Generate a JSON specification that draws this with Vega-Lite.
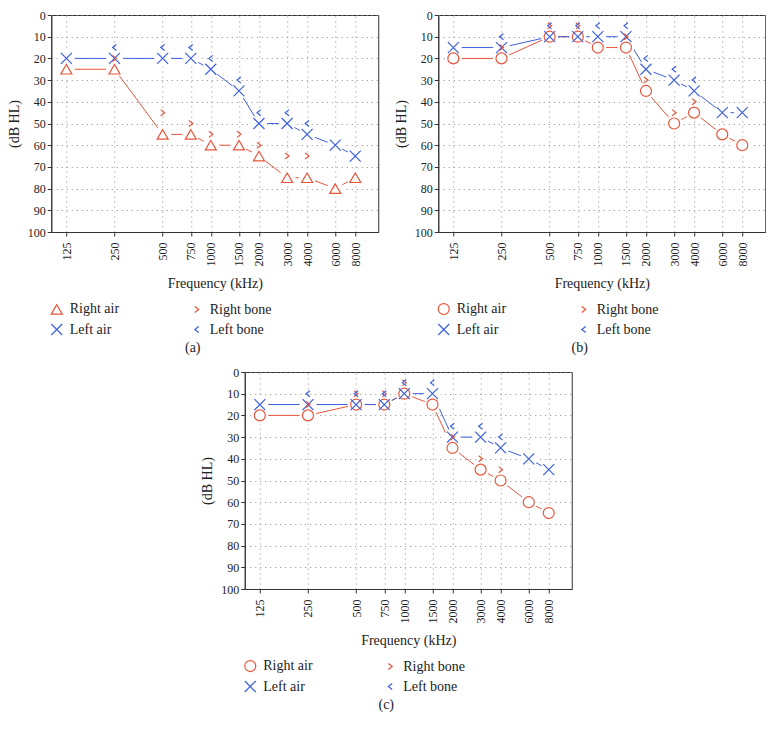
{
  "$schema": "https://vega.github.io/schema/vega-lite/v6.json",
  "padding": {"left": 6, "top": 8, "right": 0, "bottom": 0},
  "background": "white",
  "datasets": {
    "aud": [
      {"panel": "a", "series": "Right air", "kind": "air", "freq": 125, "db": 25},
      {"panel": "a", "series": "Right air", "kind": "air", "freq": 250, "db": 25},
      {"panel": "a", "series": "Right air", "kind": "air", "freq": 500, "db": 55},
      {"panel": "a", "series": "Right air", "kind": "air", "freq": 750, "db": 55},
      {"panel": "a", "series": "Right air", "kind": "air", "freq": 1000, "db": 60},
      {"panel": "a", "series": "Right air", "kind": "air", "freq": 1500, "db": 60},
      {"panel": "a", "series": "Right air", "kind": "air", "freq": 2000, "db": 65},
      {"panel": "a", "series": "Right air", "kind": "air", "freq": 3000, "db": 75},
      {"panel": "a", "series": "Right air", "kind": "air", "freq": 4000, "db": 75},
      {"panel": "a", "series": "Right air", "kind": "air", "freq": 6000, "db": 80},
      {"panel": "a", "series": "Right air", "kind": "air", "freq": 8000, "db": 75},
      {"panel": "a", "series": "Left air", "kind": "air", "freq": 125, "db": 20},
      {"panel": "a", "series": "Left air", "kind": "air", "freq": 250, "db": 20},
      {"panel": "a", "series": "Left air", "kind": "air", "freq": 500, "db": 20},
      {"panel": "a", "series": "Left air", "kind": "air", "freq": 750, "db": 20},
      {"panel": "a", "series": "Left air", "kind": "air", "freq": 1000, "db": 25},
      {"panel": "a", "series": "Left air", "kind": "air", "freq": 1500, "db": 35},
      {"panel": "a", "series": "Left air", "kind": "air", "freq": 2000, "db": 50},
      {"panel": "a", "series": "Left air", "kind": "air", "freq": 3000, "db": 50},
      {"panel": "a", "series": "Left air", "kind": "air", "freq": 4000, "db": 55},
      {"panel": "a", "series": "Left air", "kind": "air", "freq": 6000, "db": 60},
      {"panel": "a", "series": "Left air", "kind": "air", "freq": 8000, "db": 65},
      {"panel": "a", "series": "Right bone", "kind": "bone", "freq": 250, "db": 20},
      {"panel": "a", "series": "Right bone", "kind": "bone", "freq": 500, "db": 45},
      {"panel": "a", "series": "Right bone", "kind": "bone", "freq": 750, "db": 50},
      {"panel": "a", "series": "Right bone", "kind": "bone", "freq": 1000, "db": 55},
      {"panel": "a", "series": "Right bone", "kind": "bone", "freq": 1500, "db": 55},
      {"panel": "a", "series": "Right bone", "kind": "bone", "freq": 2000, "db": 60},
      {"panel": "a", "series": "Right bone", "kind": "bone", "freq": 3000, "db": 65},
      {"panel": "a", "series": "Right bone", "kind": "bone", "freq": 4000, "db": 65},
      {"panel": "a", "series": "Left bone", "kind": "bone", "freq": 250, "db": 15},
      {"panel": "a", "series": "Left bone", "kind": "bone", "freq": 500, "db": 15},
      {"panel": "a", "series": "Left bone", "kind": "bone", "freq": 750, "db": 15},
      {"panel": "a", "series": "Left bone", "kind": "bone", "freq": 1000, "db": 20},
      {"panel": "a", "series": "Left bone", "kind": "bone", "freq": 1500, "db": 30},
      {"panel": "a", "series": "Left bone", "kind": "bone", "freq": 2000, "db": 45},
      {"panel": "a", "series": "Left bone", "kind": "bone", "freq": 3000, "db": 45},
      {"panel": "a", "series": "Left bone", "kind": "bone", "freq": 4000, "db": 50},

      {"panel": "b", "series": "Right air", "kind": "air", "freq": 125, "db": 20},
      {"panel": "b", "series": "Right air", "kind": "air", "freq": 250, "db": 20},
      {"panel": "b", "series": "Right air", "kind": "air", "freq": 500, "db": 10},
      {"panel": "b", "series": "Right air", "kind": "air", "freq": 750, "db": 10},
      {"panel": "b", "series": "Right air", "kind": "air", "freq": 1000, "db": 15},
      {"panel": "b", "series": "Right air", "kind": "air", "freq": 1500, "db": 15},
      {"panel": "b", "series": "Right air", "kind": "air", "freq": 2000, "db": 35},
      {"panel": "b", "series": "Right air", "kind": "air", "freq": 3000, "db": 50},
      {"panel": "b", "series": "Right air", "kind": "air", "freq": 4000, "db": 45},
      {"panel": "b", "series": "Right air", "kind": "air", "freq": 6000, "db": 55},
      {"panel": "b", "series": "Right air", "kind": "air", "freq": 8000, "db": 60},
      {"panel": "b", "series": "Left air", "kind": "air", "freq": 125, "db": 15},
      {"panel": "b", "series": "Left air", "kind": "air", "freq": 250, "db": 15},
      {"panel": "b", "series": "Left air", "kind": "air", "freq": 500, "db": 10},
      {"panel": "b", "series": "Left air", "kind": "air", "freq": 750, "db": 10},
      {"panel": "b", "series": "Left air", "kind": "air", "freq": 1000, "db": 10},
      {"panel": "b", "series": "Left air", "kind": "air", "freq": 1500, "db": 10},
      {"panel": "b", "series": "Left air", "kind": "air", "freq": 2000, "db": 25},
      {"panel": "b", "series": "Left air", "kind": "air", "freq": 3000, "db": 30},
      {"panel": "b", "series": "Left air", "kind": "air", "freq": 4000, "db": 35},
      {"panel": "b", "series": "Left air", "kind": "air", "freq": 6000, "db": 45},
      {"panel": "b", "series": "Left air", "kind": "air", "freq": 8000, "db": 45},
      {"panel": "b", "series": "Right bone", "kind": "bone", "freq": 250, "db": 15},
      {"panel": "b", "series": "Right bone", "kind": "bone", "freq": 500, "db": 5},
      {"panel": "b", "series": "Right bone", "kind": "bone", "freq": 750, "db": 5},
      {"panel": "b", "series": "Right bone", "kind": "bone", "freq": 1500, "db": 10},
      {"panel": "b", "series": "Right bone", "kind": "bone", "freq": 2000, "db": 30},
      {"panel": "b", "series": "Right bone", "kind": "bone", "freq": 3000, "db": 45},
      {"panel": "b", "series": "Right bone", "kind": "bone", "freq": 4000, "db": 40},
      {"panel": "b", "series": "Left bone", "kind": "bone", "freq": 250, "db": 10},
      {"panel": "b", "series": "Left bone", "kind": "bone", "freq": 500, "db": 5},
      {"panel": "b", "series": "Left bone", "kind": "bone", "freq": 750, "db": 5},
      {"panel": "b", "series": "Left bone", "kind": "bone", "freq": 1000, "db": 5},
      {"panel": "b", "series": "Left bone", "kind": "bone", "freq": 1500, "db": 5},
      {"panel": "b", "series": "Left bone", "kind": "bone", "freq": 2000, "db": 20},
      {"panel": "b", "series": "Left bone", "kind": "bone", "freq": 3000, "db": 25},
      {"panel": "b", "series": "Left bone", "kind": "bone", "freq": 4000, "db": 30},

      {"panel": "c", "series": "Right air", "kind": "air", "freq": 125, "db": 20},
      {"panel": "c", "series": "Right air", "kind": "air", "freq": 250, "db": 20},
      {"panel": "c", "series": "Right air", "kind": "air", "freq": 500, "db": 15},
      {"panel": "c", "series": "Right air", "kind": "air", "freq": 750, "db": 15},
      {"panel": "c", "series": "Right air", "kind": "air", "freq": 1000, "db": 10},
      {"panel": "c", "series": "Right air", "kind": "air", "freq": 1500, "db": 15},
      {"panel": "c", "series": "Right air", "kind": "air", "freq": 2000, "db": 35},
      {"panel": "c", "series": "Right air", "kind": "air", "freq": 3000, "db": 45},
      {"panel": "c", "series": "Right air", "kind": "air", "freq": 4000, "db": 50},
      {"panel": "c", "series": "Right air", "kind": "air", "freq": 6000, "db": 60},
      {"panel": "c", "series": "Right air", "kind": "air", "freq": 8000, "db": 65},
      {"panel": "c", "series": "Left air", "kind": "air", "freq": 125, "db": 15},
      {"panel": "c", "series": "Left air", "kind": "air", "freq": 250, "db": 15},
      {"panel": "c", "series": "Left air", "kind": "air", "freq": 500, "db": 15},
      {"panel": "c", "series": "Left air", "kind": "air", "freq": 750, "db": 15},
      {"panel": "c", "series": "Left air", "kind": "air", "freq": 1000, "db": 10},
      {"panel": "c", "series": "Left air", "kind": "air", "freq": 1500, "db": 10},
      {"panel": "c", "series": "Left air", "kind": "air", "freq": 2000, "db": 30},
      {"panel": "c", "series": "Left air", "kind": "air", "freq": 3000, "db": 30},
      {"panel": "c", "series": "Left air", "kind": "air", "freq": 4000, "db": 35},
      {"panel": "c", "series": "Left air", "kind": "air", "freq": 6000, "db": 40},
      {"panel": "c", "series": "Left air", "kind": "air", "freq": 8000, "db": 45},
      {"panel": "c", "series": "Right bone", "kind": "bone", "freq": 250, "db": 15},
      {"panel": "c", "series": "Right bone", "kind": "bone", "freq": 500, "db": 10},
      {"panel": "c", "series": "Right bone", "kind": "bone", "freq": 750, "db": 10},
      {"panel": "c", "series": "Right bone", "kind": "bone", "freq": 1000, "db": 5},
      {"panel": "c", "series": "Right bone", "kind": "bone", "freq": 2000, "db": 30},
      {"panel": "c", "series": "Right bone", "kind": "bone", "freq": 3000, "db": 40},
      {"panel": "c", "series": "Right bone", "kind": "bone", "freq": 4000, "db": 45},
      {"panel": "c", "series": "Left bone", "kind": "bone", "freq": 250, "db": 10},
      {"panel": "c", "series": "Left bone", "kind": "bone", "freq": 500, "db": 10},
      {"panel": "c", "series": "Left bone", "kind": "bone", "freq": 750, "db": 10},
      {"panel": "c", "series": "Left bone", "kind": "bone", "freq": 1000, "db": 5},
      {"panel": "c", "series": "Left bone", "kind": "bone", "freq": 1500, "db": 5},
      {"panel": "c", "series": "Left bone", "kind": "bone", "freq": 2000, "db": 25},
      {"panel": "c", "series": "Left bone", "kind": "bone", "freq": 3000, "db": 25},
      {"panel": "c", "series": "Left bone", "kind": "bone", "freq": 4000, "db": 30}
    ]
  },
  "vconcat": [
    {
      "hconcat": [
        {
          "width": 327, "height": 217,
          "data": {"name": "aud"},
          "transform": [{"filter": "datum.panel === 'a'"}],
          "title": {"text": "(a)"},
          "encoding": {
            "x": {"field": "freq", "type": "quantitative", "scale": {"type": "log", "base": 2, "domain": [100.6, 11140], "nice": false},
                  "axis": {"values": [125, 250, 500, 750, 1000, 1500, 2000, 3000, 4000, 6000, 8000], "format": "d", "labelAngle": -90, "title": "Frequency (kHz)"}},
            "y": {"field": "db", "type": "quantitative", "scale": {"domain": [0, 100], "reverse": true, "nice": false, "zero": false},
                  "axis": {"values": [0, 10, 20, 30, 40, 50, 60, 70, 80, 90, 100], "title": "(dB HL)"}}
          },
          "layer": [
            {"transform": [{"filter": "datum.series === 'Right air'"}], "mark": {"type": "line", "color": "#e8553b", "strokeWidth": 1}},
            {"transform": [{"filter": "datum.series === 'Left air'"}], "mark": {"type": "line", "color": "#3b5fde", "strokeWidth": 1}},
            {"transform": [{"filter": "datum.kind === 'air'"}], "mark": {"type": "point", "shape": "circle", "filled": true, "color": "white", "strokeWidth": 0, "size": 280, "opacity": 1}},
            {"mark": {"type": "point", "filled": false, "strokeWidth": 1.2, "size": 121, "opacity": 1},
             "encoding": {
               "shape": {"field": "series", "type": "nominal", "scale": {"domain": ["Right air", "Right bone", "Left air", "Left bone"], "range": ["triangle-up", "M-0.35,-0.55L0.35,0L-0.35,0.55", "M-1,-1L1,1M-1,1L1,-1", "M0.35,-0.55L-0.35,0L0.35,0.55"]}, "legend": null},
               "color": {"field": "series", "type": "nominal", "scale": {"domain": ["Right air", "Right bone", "Left air", "Left bone"], "range": ["#e8553b", "#e8553b", "#3b5fde", "#3b5fde"]},
                         "legend": {"orient": "none", "legendX": -1.5, "legendY": 287, "columns": 2, "direction": "horizontal", "title": null}}
             }}
          ]
        },
        {
          "width": 327, "height": 217,
          "data": {"name": "aud"},
          "transform": [{"filter": "datum.panel === 'b'"}],
          "title": {"text": "(b)"},
          "encoding": {
            "x": {"field": "freq", "type": "quantitative", "scale": {"type": "log", "base": 2, "domain": [100.6, 11140], "nice": false},
                  "axis": {"values": [125, 250, 500, 750, 1000, 1500, 2000, 3000, 4000, 6000, 8000], "format": "d", "labelAngle": -90, "title": "Frequency (kHz)"}},
            "y": {"field": "db", "type": "quantitative", "scale": {"domain": [0, 100], "reverse": true, "nice": false, "zero": false},
                  "axis": {"values": [0, 10, 20, 30, 40, 50, 60, 70, 80, 90, 100], "title": "(dB HL)"}}
          },
          "layer": [
            {"transform": [{"filter": "datum.series === 'Right air'"}], "mark": {"type": "line", "color": "#e8553b", "strokeWidth": 1}},
            {"transform": [{"filter": "datum.series === 'Left air'"}], "mark": {"type": "line", "color": "#3b5fde", "strokeWidth": 1}},
            {"transform": [{"filter": "datum.kind === 'air'"}], "mark": {"type": "point", "shape": "circle", "filled": true, "color": "white", "strokeWidth": 0, "size": 280, "opacity": 1}},
            {"mark": {"type": "point", "filled": false, "strokeWidth": 1.2, "size": 121, "opacity": 1},
             "encoding": {
               "shape": {"field": "series", "type": "nominal", "scale": {"domain": ["Right air", "Right bone", "Left air", "Left bone"], "range": ["circle", "M-0.35,-0.55L0.35,0L-0.35,0.55", "M-1,-1L1,1M-1,1L1,-1", "M0.35,-0.55L-0.35,0L0.35,0.55"]}, "legend": null},
               "color": {"field": "series", "type": "nominal", "scale": {"domain": ["Right air", "Right bone", "Left air", "Left bone"], "range": ["#e8553b", "#e8553b", "#3b5fde", "#3b5fde"]},
                         "legend": {"orient": "none", "legendX": -1.5, "legendY": 287, "columns": 2, "direction": "horizontal", "title": null}}
             }}
          ]
        }
      ],
      "spacing": 14,
      "resolve": {"scale": {"color": "independent", "shape": "independent"}, "legend": {"color": "independent", "shape": "independent"}}
    },
    {
      "width": 327, "height": 217,
      "data": {"name": "aud"},
      "transform": [{"filter": "datum.panel === 'c'"}],
      "title": {"text": "(c)"},
      "encoding": {
        "x": {"field": "freq", "type": "quantitative", "scale": {"type": "log", "base": 2, "domain": [100.6, 11140], "nice": false},
              "axis": {"values": [125, 250, 500, 750, 1000, 1500, 2000, 3000, 4000, 6000, 8000], "format": "d", "labelAngle": -90, "title": "Frequency (kHz)"}},
        "y": {"field": "db", "type": "quantitative", "scale": {"domain": [0, 100], "reverse": true, "nice": false, "zero": false},
              "axis": {"values": [0, 10, 20, 30, 40, 50, 60, 70, 80, 90, 100], "title": "(dB HL)"}}
      },
      "layer": [
        {"transform": [{"filter": "datum.series === 'Right air'"}], "mark": {"type": "line", "color": "#e8553b", "strokeWidth": 1}},
        {"transform": [{"filter": "datum.series === 'Left air'"}], "mark": {"type": "line", "color": "#3b5fde", "strokeWidth": 1}},
        {"transform": [{"filter": "datum.kind === 'air'"}], "mark": {"type": "point", "shape": "circle", "filled": true, "color": "white", "strokeWidth": 0, "size": 280, "opacity": 1}},
        {"mark": {"type": "point", "filled": false, "strokeWidth": 1.2, "size": 121, "opacity": 1},
         "encoding": {
           "shape": {"field": "series", "type": "nominal", "scale": {"domain": ["Right air", "Right bone", "Left air", "Left bone"], "range": ["circle", "M-0.35,-0.55L0.35,0L-0.35,0.55", "M-1,-1L1,1M-1,1L1,-1", "M0.35,-0.55L-0.35,0L0.35,0.55"]}, "legend": null},
           "color": {"field": "series", "type": "nominal", "scale": {"domain": ["Right air", "Right bone", "Left air", "Left bone"], "range": ["#e8553b", "#e8553b", "#3b5fde", "#3b5fde"]},
                     "legend": {"orient": "none", "legendX": -1.5, "legendY": 287, "columns": 2, "direction": "horizontal", "title": null}}
         }}
      ]
    }
  ],
  "spacing": 9,
  "center": true,
  "resolve": {"scale": {"color": "independent", "shape": "independent"}, "legend": {"color": "independent", "shape": "independent"}},
  "config": {
    "font": "Liberation Serif",
    "view": {"stroke": "#333", "strokeWidth": 1},
    "axis": {
      "labelFont": "Liberation Serif", "labelFontSize": 12, "labelColor": "#222",
      "titleFont": "Liberation Serif", "titleFontSize": 14, "titleFontWeight": "normal", "titleColor": "#222",
      "domainColor": "#333", "tickColor": "#333", "tickSize": 4, "labelPadding": 2,
      "grid": true, "gridColor": "#8a8a8a", "gridDash": [1, 4], "gridWidth": 1, "gridOpacity": 1,
      "labelOverlap": false, "labelFlush": false
    },
    "axisX": {"labelFontSize": 12, "labelPadding": 6, "titlePadding": 10},
    "axisY": {"titlePadding": 6},
    "legend": {
      "labelFont": "Liberation Serif", "labelFontSize": 14, "labelColor": "#222",
      "symbolSize": 121, "symbolStrokeWidth": 1.2, "padding": 0,
      "rowPadding": 4.5, "columnPadding": 70, "labelOffset": 6, "gridAlign": "each"
    },
    "title": {"font": "Liberation Serif", "fontSize": 14, "fontWeight": "normal", "color": "#222", "orient": "bottom", "frame": "bounds", "anchor": "middle", "offset": 3}
  }
}
